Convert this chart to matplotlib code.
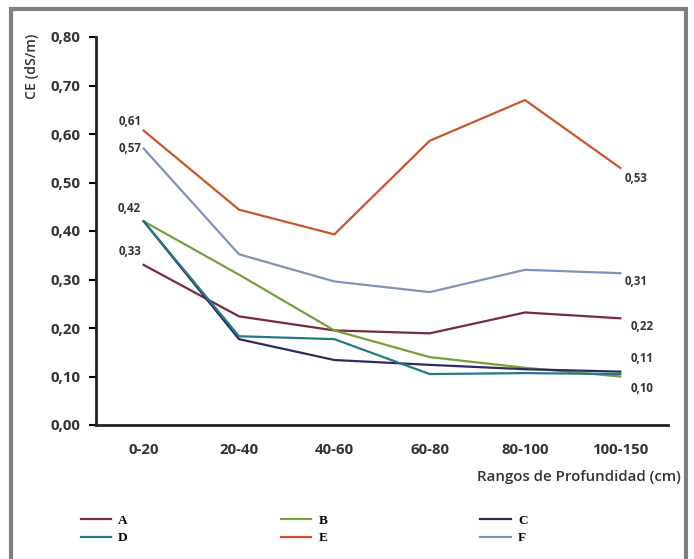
import matplotlib
matplotlib.use("Agg")
import matplotlib.pyplot as plt
from matplotlib.patches import Rectangle

categories = ["0-20", "20-40", "40-60", "60-80", "80-100", "100-150"]
A = [0.33, 0.224, 0.195, 0.189, 0.232, 0.22]
B = [0.42, 0.31, 0.195, 0.14, 0.118, 0.10]
C = [0.42, 0.177, 0.134, 0.124, 0.115, 0.11]
D = [0.42, 0.183, 0.177, 0.105, 0.107, 0.105]
E = [0.607, 0.444, 0.393, 0.586, 0.67, 0.53]
F = [0.57, 0.352, 0.296, 0.274, 0.32, 0.313]
series_names = ["A", "B", "C", "D", "E", "F"]
yticks = [0.0, 0.1, 0.2, 0.3, 0.4, 0.5, 0.6, 0.7, 0.8]

colors = {"A": "#7a2a3a", "B": "#76a03c", "C": "#2f2b5e", "D": "#23798a",
          "E": "#c8552b", "F": "#7f93ba"}
data = {"A": A, "B": B, "C": C, "D": D, "E": E, "F": F}

W, H = 694, 559
fig = plt.figure(figsize=(W / 100, H / 100), dpi=100)
ax = fig.add_axes([96 / W, (H - 425) / H, (668 - 96) / W, (425 - 37) / H])

x = list(range(len(categories)))
lines = {}
for name in series_names:
    (ln,) = ax.plot(x, data[name], color=colors[name], lw=1.6, label=name)
    lines[name] = ln

ax.set_xlim(-0.5, len(categories) - 0.5)
ax.set_ylim(0, 0.8)
ax.set_yticks(yticks)
ax.set_yticklabels([f"{v:.2f}".replace(".", ",") for v in yticks],
                   fontsize=10.8, fontweight="bold", color="#333333", family="Open Sans")
ax.set_xticks(x)
ax.set_xticklabels(categories, fontsize=10.8, fontweight="bold", color="#333333", family="Open Sans")
ax.tick_params(axis="x", length=0, pad=13)
ax.tick_params(axis="y", direction="out", length=5, width=1.5, pad=6)
for s in ["top", "right"]:
    ax.spines[s].set_visible(False)
ax.spines["left"].set_linewidth(2)
ax.spines["bottom"].set_linewidth(2)
ax.spines["left"].set_color("#222222")
ax.spines["bottom"].set_color("#222222")

ax.set_ylabel("CE (dS/m)", fontsize=10.2, family="Open Sans", fontweight="semibold", color="#333333")
ax.yaxis.set_label_coords(-0.1, 0.925)

fig.text(681 / W, 1 - 477 / H, "Rangos de Profundidad (cm)", ha="right", va="center",
         fontsize=10.8, family="Open Sans", fontweight="semibold", color="#333333")

def fmt(v):
    return f"{v:.2f}".replace(".", ",")

lab_kw = dict(textcoords="offset pixels", fontsize=8.3, fontweight="bold",
              family="Open Sans", color="#333333", ha="center", va="center")
# left labels
ax.annotate(fmt(E[0]), (0, E[0]), xytext=(-14, 9), **lab_kw)
ax.annotate(fmt(F[0]), (0, F[0]), xytext=(-14, 0), **lab_kw)
ax.annotate(fmt(B[0]), (0, B[0]), xytext=(-14, 13), **lab_kw)
ax.annotate(fmt(A[0]), (0, A[0]), xytext=(-14, 13), **lab_kw)
# right labels
n = len(categories) - 1
ax.annotate(fmt(E[n]), (n, E[n]), xytext=(16, -11), **lab_kw)
ax.annotate(fmt(F[n]), (n, F[n]), xytext=(16, -8), **lab_kw)
ax.annotate(fmt(A[n]), (n, A[n]), xytext=(22, -8), **lab_kw)
ax.annotate(fmt(C[n]), (n, C[n]), xytext=(22, 13), **lab_kw)
ax.annotate(fmt(B[n]), (n, B[n]), xytext=(22, -12), **lab_kw)

order = ["A", "D", "B", "E", "C", "F"]
fig.legend([lines[k] for k in order], order, ncol=3, loc="upper left",
           bbox_to_anchor=(74 / W, 1 - 508 / H), frameon=False,
           prop={"family": "Liberation Serif", "weight": "bold", "size": 9.5},
           handlelength=2.3, handletextpad=0.55, columnspacing=11.6,
           labelspacing=0.4, borderpad=0)

fig.patches.append(Rectangle((11 / W, -0.05), (686 - 11) / W, 1.05 - 9 / H,
                             transform=fig.transFigure, fill=False,
                             edgecolor="#7f7f7f", lw=3))

fig.savefig("out.png", dpi=100)
